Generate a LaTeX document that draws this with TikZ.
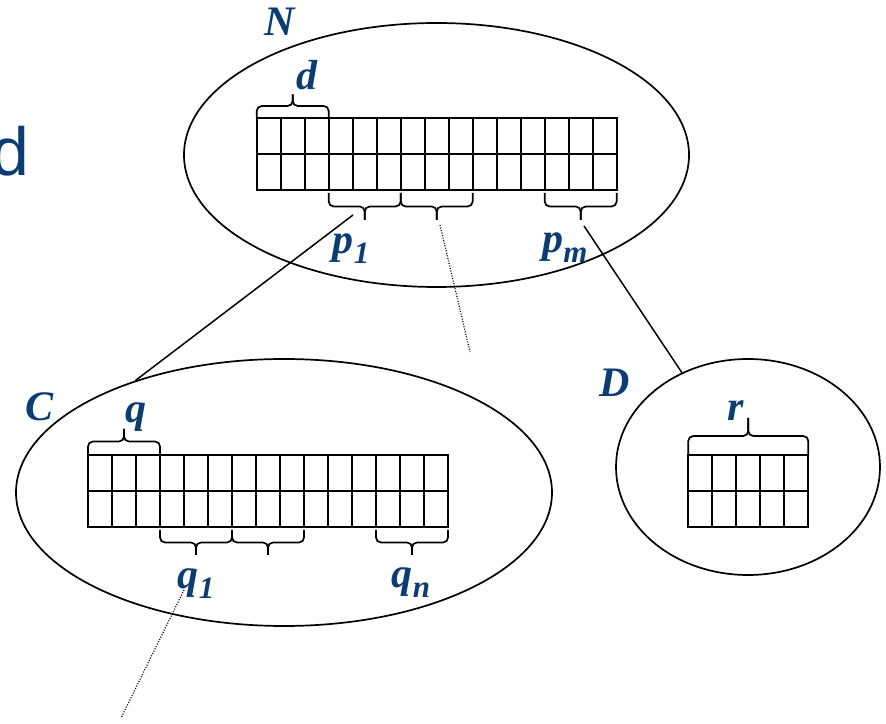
\documentclass[tikz,border=0pt]{standalone}
\usepackage{fontspec}
\setmainfont{Liberation Serif}
\newfontfamily\sansf{Liberation Sans}
\usetikzlibrary{shapes.geometric}
\definecolor{lblue}{HTML}{0B3D73}
\newcommand\mybrace[4]{%
  \draw[brline] (#1,#3) -- (#1,{#3+#4/2}) -- ({(#1+#2)/2},{#3+#4/2}) -- ({(#1+#2)/2},{#3+#4});
  \draw[brline] (#2,#3) -- (#2,{#3+#4/2}) -- ({(#1+#2)/2},{#3+#4/2}) -- ({(#1+#2)/2},{#3+#4});}
\begin{document}
\begin{tikzpicture}[x=1pt,y=1pt,
  oval/.style={draw, ellipse, line width=1.7pt, inner sep=0pt},
  cellline/.style={line width=2pt},
  brline/.style={line width=1.7pt, rounded corners=5pt},
  lbl/.style={text=lblue, inner sep=0pt, font=\fontsize{42}{42}\selectfont\bfseries\itshape},
  link/.style={line width=1.5pt},
  dotlink/.style={line width=1.2pt, dash pattern=on 1pt off 1.6pt},
]
\useasboundingbox (0,0) rectangle (886,723);
\fill[white] (0,0) rectangle (886,723);

% big cut-off letter
\node[anchor=base east, inner sep=0pt, text=lblue, font=\sansf\fontsize{68}{68}\selectfont] (bigd) at (29.4,547) {d};

% ellipses
\node[oval, minimum width=505pt, minimum height=264pt] (N) at (436.5,568) {};
\node[oval, minimum width=536pt, minimum height=267pt] (C) at (284,230.5) {};
\node[oval, minimum width=264pt, minimum height=216pt] (D) at (748,256) {};

% N grid
\draw[cellline] (256.7,532.5) rectangle ++(360,72);
\draw[cellline] (256.7,568.5) -- ++(360,0);
\foreach \i in {1,...,14} \draw[cellline] (256.7+24*\i,532.5) -- ++(0,72);
% C grid
\draw[cellline] (88,196) rectangle ++(360,72);
\draw[cellline] (88,232) -- ++(360,0);
\foreach \i in {1,...,14} \draw[cellline] (88+24*\i,196) -- ++(0,72);
% D grid
\draw[cellline] (688.3,196) rectangle ++(120,72);
\draw[cellline] (688.3,232) -- ++(120,0);
\foreach \i in {1,...,4} \draw[cellline] (688.3+24*\i,196) -- ++(0,72);

% braces N
\mybrace{256.7}{328.7}{605.5}{23}
\mybrace{328.7}{400.7}{530}{-27}
\mybrace{400.7}{472.7}{530}{-27}
\mybrace{544.7}{616.7}{530}{-27}
% braces C
\mybrace{88}{160}{269}{25}
\mybrace{160}{232}{193}{-25}
\mybrace{232}{304}{193}{-25}
\mybrace{376}{448}{193}{-25}
% brace D
\mybrace{688.3}{808.3}{269}{36}

% labels
\node[lbl] (lN) at (280,701) {N};
\node[lbl] (ld) at (306.7,648) {d};
\node[lbl] (lp1) at (351,474) {p\raisebox{-10pt}{\fontsize{31}{31}\selectfont 1}};
\node[lbl] (lpm) at (565,475) {p\raisebox{-10pt}{\fontsize{31}{31}\selectfont m}};
\node[lbl] (lC) at (40,316) {C};
\node[lbl] (lq) at (135.5,306) {q};
\node[lbl] (lq1) at (196,139) {q\raisebox{-10pt}{\fontsize{31}{31}\selectfont 1}};
\node[lbl] (lqn) at (411,140) {q\raisebox{-10pt}{\fontsize{31}{31}\selectfont n}};
\node[lbl] (lD) at (615,340) {D};
\node[lbl] (lr) at (736,312) {r};

% connectors
\coordinate (p1s) at (353,508);
\coordinate (pms) at (584,497);
\coordinate (p2s) at (440,498);
\coordinate (p2e) at (470,371);
\coordinate (q1s) at (184,133);
\coordinate (q1e) at (121,5);
\draw[link] (p1s) -- (C.143);
\draw[link] (pms) -- (D.125);
\draw[dotlink] (p2s) -- (p2e);
\draw[dotlink] (q1s) -- (q1e);
\end{tikzpicture}
\end{document}
